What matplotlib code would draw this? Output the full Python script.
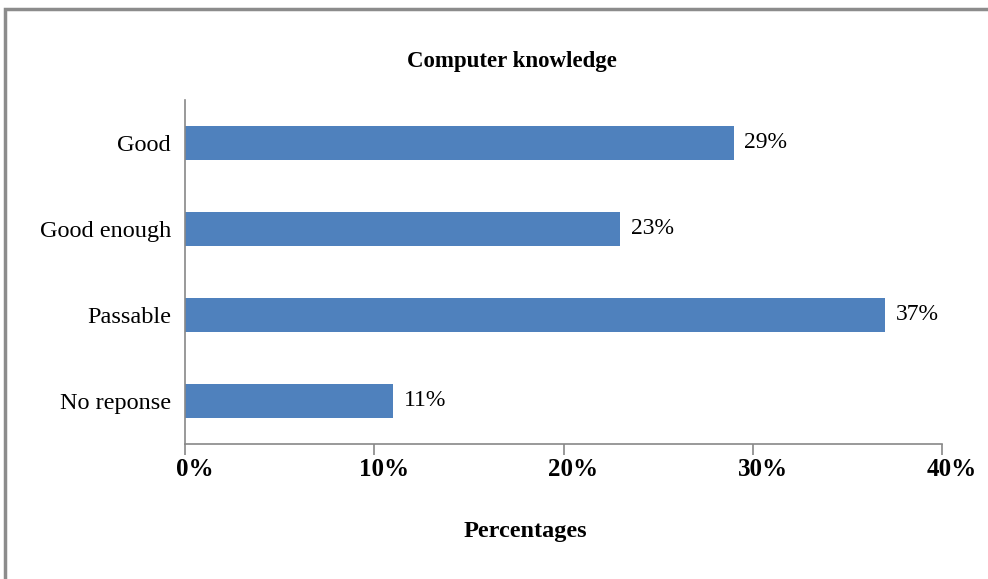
import matplotlib.pyplot as plt
from matplotlib.patches import Rectangle
from matplotlib.transforms import ScaledTranslation

categories = ['Good', 'Good enough', 'Passable', 'No reponse']
values = [29, 23, 37, 11]
xticks = [0, 10, 20, 30, 40]

plt.rcParams['font.family'] = ['Liberation Serif', 'DejaVu Serif']

fig = plt.figure(figsize=(9.88, 5.79), dpi=100)
ax = fig.add_axes([185/988, 1-444/579, (942-185)/988, 344/579])

ypos = list(range(len(categories)))[::-1]
ax.barh(ypos, values, height=0.4, color='#4F81BD')
for y, v in zip(ypos, values):
    ax.text(v + 0.55, y, str(v) + '%', va='center', ha='left', fontsize=17)

ax.set_xlim(0, 40)
ax.set_ylim(-0.5, 3.5)
ax.set_yticks(ypos)
ax.set_yticklabels(categories, fontsize=17.5)
ax.set_xticks(xticks)
ax.set_xticklabels([])
# x tick labels drawn by hand, nudged a little right of their ticks
shift = ScaledTranslation(10/100, -26/100, fig.dpi_scale_trans)
for t in xticks:
    ax.text(t, 0, str(t) + '%', transform=ax.get_xaxis_transform() + shift,
            ha='center', va='center', fontsize=18, fontweight='bold')

for s in ['top', 'right']:
    ax.spines[s].set_visible(False)
for s in ['left', 'bottom']:
    ax.spines[s].set_color('#888888')
    ax.spines[s].set_linewidth(1.2)
ax.tick_params(axis='y', length=0, pad=10)
ax.tick_params(axis='x', length=8, color='#888888', width=1.2)

fig.text(512/988, 1-62/579, 'Computer knowledge', ha='center', va='center',
         fontsize=16.5, fontweight='bold')
fig.text(525/988, 1-531/579, 'Percentages', ha='center', va='center',
         fontsize=17.5, fontweight='bold')

# outer frame
fig.patches.append(Rectangle((5/988, -0.05), 1.0, 1-9/579 + 0.05, transform=fig.transFigure,
                             fill=False, edgecolor='#8c8c8c', linewidth=2.5))

fig.savefig('out.png', dpi=100)
